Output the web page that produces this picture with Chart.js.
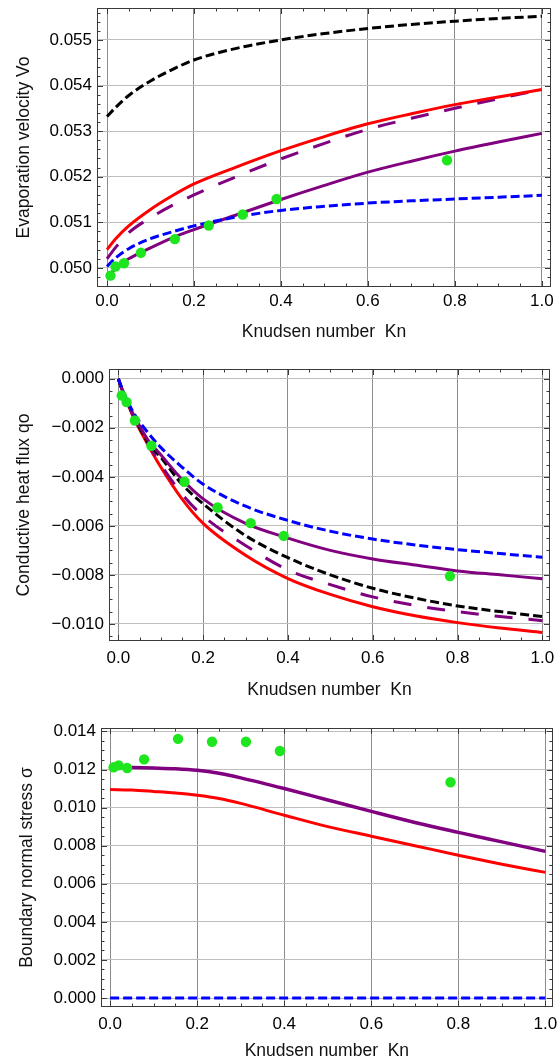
<!DOCTYPE html>
<html>
<head>
<meta charset="utf-8">
<script src="https://cdn.jsdelivr.net/npm/chart.js@4.4.1/dist/chart.umd.min.js"></script>
<style>
	html, body { margin: 0; padding: 0; background: #fff; }
	body { width: 558px; height: 1064px; position: relative; overflow: hidden; }
	canvas { position: absolute; left: 0; }
</style>
</head>
<body>
<canvas id="c1" width="558" height="345" style="top:0px"></canvas>
<canvas id="c2" width="558" height="360" style="top:345px"></canvas>
<canvas id="c3" width="558" height="359" style="top:705px"></canvas>
<script>
// measured (green dots), same Kn for all three panels
const knPoints = [0.008, 0.0195, 0.039, 0.078, 0.156, 0.234, 0.312, 0.39, 0.782];
const vPoints = [0.04983, 0.05003, 0.0501, 0.05033, 0.05063, 0.05093, 0.05117, 0.05151, 0.05236];
const qPoints = [-0.00068, -0.00095, -0.0017, -0.00273, -0.0042, -0.00525, -0.00589, -0.00641, -0.00805];
const sPoints = [0.01212, 0.01222, 0.01208, 0.01253, 0.01361, 0.01346, 0.01346, 0.01297, 0.01133];

// panel 1: evaporation velocity
const kn1 = [0, 0.02, 0.05, 0.1, 0.15, 0.2, 0.3, 0.4, 0.5, 0.6, 0.7, 0.8, 0.9, 1.0];
const vBlack = [0.05332, 0.05352, 0.05378, 0.0541, 0.05435, 0.05456, 0.05482, 0.055, 0.05514, 0.05525, 0.05534, 0.05541, 0.05547, 0.05552];
const vRed = [0.0504, 0.05064, 0.05092, 0.05128, 0.05158, 0.05184, 0.05222, 0.05257, 0.05288, 0.05316, 0.05338, 0.05358, 0.05375, 0.05391];
const vPurpleDash = [0.0502, 0.05045, 0.05077, 0.0511, 0.05137, 0.0516, 0.05201, 0.05239, 0.05273, 0.05304, 0.05328, 0.0535, 0.05371, 0.05391];
const vPurple = [0.04976, 0.05, 0.0502, 0.05044, 0.05066, 0.05084, 0.05117, 0.0515, 0.05181, 0.0521, 0.05234, 0.05256, 0.05276, 0.05295];
const vBlue = [0.05003, 0.05022, 0.05042, 0.05064, 0.05079, 0.05092, 0.05112, 0.05126, 0.05135, 0.05142, 0.05147, 0.05151, 0.05155, 0.05159];

// panel 2: conductive heat flux
const kn2 = [0, 0.01, 0.02, 0.04, 0.07, 0.1, 0.15, 0.2, 0.3, 0.4, 0.5, 0.6, 0.7, 0.8, 0.9, 1.0];
const qRed = [0, -0.0005, -0.00093, -0.00172, -0.0027, -0.0036, -0.0049, -0.0059, -0.0072, -0.00815, -0.0088, -0.0093, -0.00967, -0.00995, -0.01017, -0.01035];
const qPurpleDash = [0, -0.0005, -0.00092, -0.0017, -0.00265, -0.0035, -0.0047, -0.0056, -0.0068, -0.0078, -0.0084, -0.0089, -0.00925, -0.0095, -0.0097, -0.00987];
const qBlack = [0, -0.0005, -0.0009, -0.00165, -0.0026, -0.0032, -0.0043, -0.0051, -0.0064, -0.0073, -0.008, -0.00855, -0.00895, -0.00927, -0.0095, -0.0097];
const qPurple = [0, -0.00048, -0.0009, -0.0016, -0.0025, -0.0031, -0.0041, -0.0049, -0.0059, -0.0065, -0.007, -0.00735, -0.0076, -0.00784, -0.008, -0.00816];
const qBlue = [0, -0.00045, -0.00085, -0.0015, -0.0022, -0.0028, -0.0036, -0.0043, -0.0052, -0.00578, -0.00622, -0.00654, -0.00678, -0.00697, -0.00713, -0.00728];

// panel 3: boundary normal stress
const kn3 = [0, 0.05, 0.1, 0.15, 0.2, 0.25, 0.3, 0.4, 0.5, 0.6, 0.7, 0.8, 0.9, 1.0];
const sPurple = [0.01212, 0.01211, 0.01208, 0.01204, 0.01196, 0.0118, 0.01156, 0.011, 0.0104, 0.0098, 0.00922, 0.0087, 0.0082, 0.0077];
const sRed = [0.01095, 0.01092, 0.01085, 0.01077, 0.01065, 0.01048, 0.01022, 0.0096, 0.009, 0.0085, 0.008, 0.0075, 0.00703, 0.0066];
const sBlue = [0, 0, 0, 0, 0, 0, 0, 0, 0, 0, 0, 0, 0, 0];

const xTicks = [0, 0.2, 0.4, 0.6, 0.8, 1.0];
const yTicks1 = [0.050, 0.051, 0.052, 0.053, 0.054, 0.055];
const yTicks2 = [-0.010, -0.008, -0.006, -0.004, -0.002, 0.000];
const yTicks3 = [0.000, 0.002, 0.004, 0.006, 0.008, 0.010, 0.012, 0.014];

const FONT = 'Liberation Sans, Arial, Helvetica, sans-serif';

function pts(xs, ys) {
	return xs.map((x, i) => ({ x: x, y: ys[i] }));
}

function steps(from, to, step) {
	const out = [];
	const n = Math.round((to - from) / step);
	for (let i = 0; i <= n; i++) out.push(from + i * step);
	return out;
}

// Mathematica-like frame with inward ticks on all four sides
const framePlugin = {
	id: 'frame',
	afterDatasetsDraw(chart, args, opts) {
		const { ctx, chartArea: a, scales } = chart;
		ctx.save();
		ctx.strokeStyle = '#3a3a3a';
		ctx.lineWidth = 1;
		ctx.beginPath();
		opts.xMinor.forEach(v => {
			const p = Math.round(scales.x.getPixelForValue(v)) + 0.5;
			const len = opts.xMajor.some(m => Math.abs(m - v) < 1e-9) ? 6 : 3.5;
			ctx.moveTo(p, a.bottom); ctx.lineTo(p, a.bottom - len);
			ctx.moveTo(p, a.top); ctx.lineTo(p, a.top + len);
		});
		opts.yMinor.forEach(v => {
			const p = Math.round(scales.y.getPixelForValue(v)) + 0.5;
			const len = opts.yMajor.some(m => Math.abs(m - v) < 1e-9) ? 6 : 3.5;
			ctx.moveTo(a.left, p); ctx.lineTo(a.left + len, p);
			ctx.moveTo(a.right, p); ctx.lineTo(a.right - len, p);
		});
		ctx.stroke();
		ctx.strokeRect(Math.round(a.left) + 0.5, Math.round(a.top) + 0.5, Math.round(a.width) - 1, Math.round(a.height) - 1);
		ctx.restore();
	}
};

function line(data, color, dash, width) {
	return {
		type: 'line',
		data: data,
		borderColor: color,
		borderWidth: width || 3,
		borderDash: dash || [],
		pointRadius: 0,
		fill: false,
		cubicInterpolationMode: 'monotone'
	};
}

function dots(data) {
	return {
		type: 'scatter',
		data: data,
		backgroundColor: '#1ee61e',
		borderWidth: 0,
		pointRadius: 5.2
	};
}

function makeChart(id, p) {
	new Chart(document.getElementById(id), {
		type: 'line',
		data: { datasets: p.datasets },
		plugins: [framePlugin],
		options: {
			responsive: false,
			animation: false,
			layout: { padding: { top: p.padTop, right: p.padRight, left: 0, bottom: 0 } },
			plugins: {
				legend: { display: false },
				tooltip: { enabled: false },
				frame: { xMinor: steps(0, 1, 0.05), xMajor: xTicks, yMinor: p.yMinor, yMajor: p.yTicks }
			},
			scales: {
				x: {
					type: 'linear',
					min: p.xMin,
					max: p.xMax,
					afterBuildTicks: s => { s.ticks = xTicks.map(v => ({ value: v })); },
					afterFit: s => { s.height = p.xHeight; s.paddingLeft = 0; s.paddingRight = 0; },
					grid: { color: '#8c8c8c', lineWidth: 1, drawTicks: false },
					border: { display: false },
					ticks: {
						padding: p.xTickPad,
						color: '#000',
						maxRotation: 0,
						font: { family: FONT, size: 17 },
						callback: v => v.toFixed(1)
					},
					title: {
						display: true,
						text: 'Knudsen number  Kn',
						color: '#111',
						font: { family: FONT, size: 17.5, lineHeight: 1.2 },
						padding: { top: 0, bottom: p.xTitlePad }
					}
				},
				y: {
					type: 'linear',
					min: p.yMin,
					max: p.yMax,
					afterBuildTicks: s => { s.ticks = p.yTicks.map(v => ({ value: v })); },
					afterFit: s => { s.width = p.yWidth; s.paddingTop = 0; s.paddingBottom = 0; },
					grid: { color: '#bdbdbd', lineWidth: 1, drawTicks: false },
					border: { display: false },
					ticks: {
						padding: p.yTickPad,
						color: '#000',
						font: { family: FONT, size: 17 },
						callback: v => (v < -1e-12 ? '\u2212' : '') + Math.abs(v).toFixed(3)
					},
					title: {
						display: true,
						text: p.yTitle,
						color: '#111',
						font: { family: FONT, size: 17.5, lineHeight: 1.2 },
						padding: { top: p.yTitlePad, bottom: 0 }
					}
				}
			}
		}
	});
}

makeChart('c1', {
	padTop: 8, padRight: 7, xHeight: 58, yWidth: 97,
	xMin: -0.023, xMax: 1.021, yMin: 0.04958, yMax: 0.0557,
	xTickPad: 4, yTickPad: 5, xTitlePad: 2, yTitlePad: 14,
	yTicks: yTicks1, yMinor: steps(0.0496, 0.0556, 0.0002),
	yTitle: 'Evaporation velocity Vo',
	datasets: [
		dots(pts(knPoints, vPoints)),
		line(pts(kn1, vBlack), '#000000', [9, 4]),
		line(pts(kn1, vRed), '#ff0000'),
		line(pts(kn1, vPurpleDash), '#800080', [18, 16]),
		line(pts(kn1, vBlue), '#0000ff', [9, 4]),
		line(pts(kn1, vPurple), '#800080')
	]
});

makeChart('c2', {
	padTop: 24, padRight: 8, xHeight: 64, yWidth: 109,
	xMin: -0.022, xMax: 1.018, yMin: -0.0107, yMax: 0.0004,
	xTickPad: 7, yTickPad: 5, xTitlePad: 4, yTitlePad: 14,
	yTicks: yTicks2, yMinor: steps(-0.0105, 0, 0.0005),
	yTitle: 'Conductive heat flux qo',
	datasets: [
		dots(pts(knPoints, qPoints)),
		line(pts(kn2, qBlue), '#0000ff', [9, 4]),
		line(pts(kn2, qPurple), '#800080'),
		line(pts(kn2, qBlack), '#000000', [9, 4]),
		line(pts(kn2, qPurpleDash), '#800080', [18, 16]),
		line(pts(kn2, qRed), '#ff0000')
	]
});

makeChart('c3', {
	padTop: 23, padRight: 5, xHeight: 57, yWidth: 101,
	xMin: -0.021, xMax: 1.017, yMin: -0.00047, yMax: 0.01418,
	xTickPad: 7, yTickPad: 5, xTitlePad: 2, yTitlePad: 17,
	yTicks: yTicks3, yMinor: steps(0, 0.014, 0.0005),
	yTitle: 'Boundary normal stress \u03c3',
	datasets: [
		dots(pts(knPoints, sPoints)),
		line(pts(kn3, sPurple), '#800080', [], 3.5),
		line(pts(kn3, sRed), '#ff0000'),
		line(pts(kn3, sBlue), '#0000ff', [9, 4])
	]
});
</script>
</body>
</html>
